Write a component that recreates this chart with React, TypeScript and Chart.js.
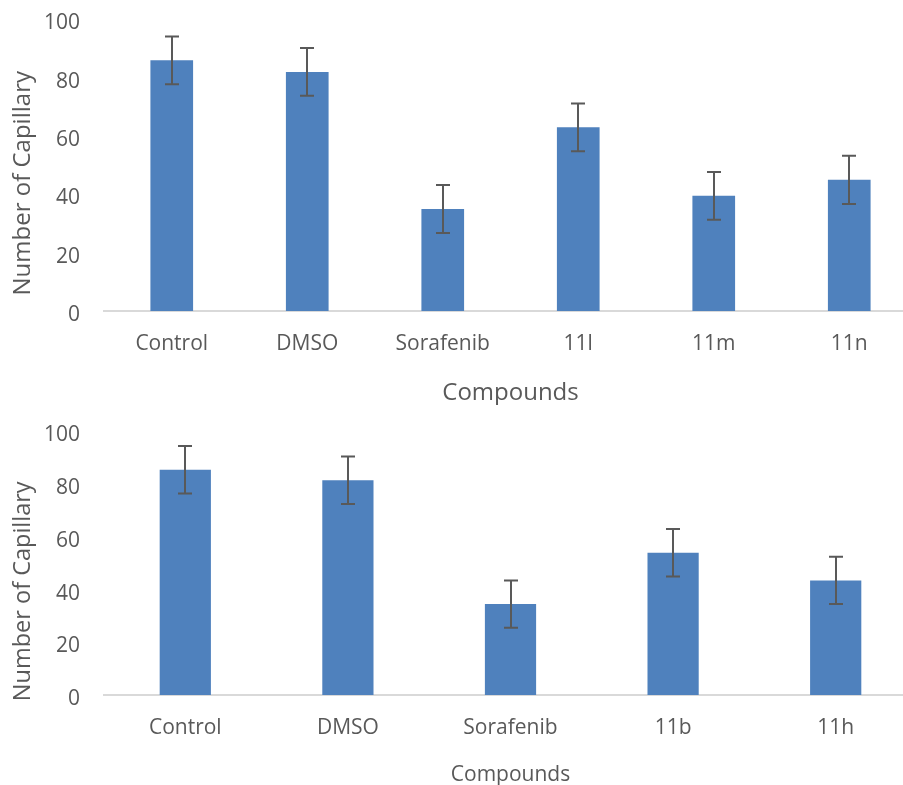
import React, { useEffect, useRef } from 'react';
import { Chart, registerables } from 'chart.js';

Chart.register(...registerables);

// ---- data ----
const topCategories = ['Control', 'DMSO', 'Sorafenib', '11l', '11m', '11n'];
const topValues = [86, 82, 35, 63, 39.5, 45];
const topErrors = [8.2, 8.2, 8.2, 8.2, 8.2, 8.3];

const bottomCategories = ['Control', 'DMSO', 'Sorafenib', '11b', '11h'];
const bottomValues = [85.5, 81.5, 34.5, 54, 43.5];
const bottomErrors = [9, 9, 9, 9, 9];

const yMin = 0;
const yMax = 100;
const yStep = 20;

const yTitleText = 'Number of Capillary';
const xTitleText = 'Compounds';

const FONT = "'Open Sans', 'Noto Sans', sans-serif";
const TEXT = '#595959';
const BAR = '#4F81BD';

function makeErrorBarPlugin(errors: number[]) {
  return {
    id: 'errorBars',
    afterDatasetsDraw(chart: any) {
      const meta = chart.getDatasetMeta(0);
      const ys = chart.scales.y;
      const data = chart.data.datasets[0].data as number[];
      const ctx = chart.ctx;
      const cap = 7;
      ctx.save();
      ctx.strokeStyle = '#595959';
      ctx.lineWidth = 2;
      meta.data.forEach((bar: any, i: number) => {
        const v = data[i];
        const e = errors[i];
        const x = Math.round(bar.x);
        const yt = ys.getPixelForValue(v + e);
        const yb = ys.getPixelForValue(v - e);
        ctx.beginPath();
        ctx.moveTo(x, yt);
        ctx.lineTo(x, yb);
        ctx.moveTo(x - cap, yt);
        ctx.lineTo(x + cap, yt);
        ctx.moveTo(x - cap, yb);
        ctx.lineTo(x + cap, yb);
        ctx.stroke();
      });
      ctx.restore();
    },
  };
}

function makeYTitlePlugin(text: string, size: number, cx: number, dy: number) {
  return {
    id: 'yTitle',
    afterDraw(chart: any) {
      const { top, bottom } = chart.chartArea;
      const ctx = chart.ctx;
      ctx.save();
      ctx.translate(cx, (top + bottom) / 2 + dy);
      ctx.rotate(-Math.PI / 2);
      ctx.fillStyle = TEXT;
      ctx.font = `${size}px ${FONT}`;
      ctx.textAlign = 'center';
      ctx.textBaseline = 'middle';
      ctx.fillText(text, 0, 0);
      ctx.restore();
    },
  };
}

// nudges the y tick labels slightly downward, as in the reference
const shifted = new WeakSet<object>();
const yLabelShiftPlugin = {
  id: 'yLabelShift',
  beforeDraw(chart: any) {
    const items = chart.scales.y.getLabelItems();
    if (shifted.has(items)) return;
    shifted.add(items);
    items.forEach((it: any) => {
      it.options.translation = [it.options.translation[0], it.options.translation[1] + 4];
    });
  },
};

interface PanelProps {
  categories: string[];
  values: number[];
  errors: number[];
  width: number;
  height: number;
  padTop: number;
  plotBottom: number;
  yTitleSize: number;
  yTitleDy: number;
  xTitleSize: number;
  xTitlePad: number;
  top: number;
}

function zeroPad(s: any) {
  s.paddingTop = 0;
  s.paddingBottom = 0;
  s.paddingLeft = 0;
  s.paddingRight = 0;
}

function Panel(p: PanelProps) {
  const ref = useRef<HTMLCanvasElement | null>(null);
  useEffect(() => {
    if (!ref.current) return;
    const chart = new Chart(ref.current, {
      type: 'bar',
      data: {
        labels: p.categories,
        datasets: [
          {
            data: p.values,
            backgroundColor: BAR,
            borderWidth: 0,
            categoryPercentage: 1,
            barPercentage: 0.315,
          },
        ],
      },
      options: {
        responsive: false,
        animation: false,
        devicePixelRatio: 1,
        layout: { padding: { top: p.padTop, left: 0, right: 1, bottom: 0 } },
        plugins: {
          legend: { display: false },
          tooltip: { enabled: false },
        },
        scales: {
          x: {
            type: 'category',
            grid: { display: false, drawTicks: false },
            border: { display: true, color: '#D9D9D9', width: 2 },
            ticks: {
              color: TEXT,
              font: { family: FONT, size: 21 },
              padding: 20,
              maxRotation: 0,
              autoSkip: false,
            },
            title: {
              display: true,
              text: xTitleText,
              color: TEXT,
              font: { family: FONT, size: p.xTitleSize },
              padding: { top: 0, bottom: p.xTitlePad },
            },
            afterFit: (s: any) => {
              s.height = p.height - p.plotBottom;
              zeroPad(s);
            },
          },
          y: {
            min: yMin,
            max: yMax,
            grid: { display: false, drawTicks: false },
            border: { display: false },
            ticks: {
              stepSize: yStep,
              color: TEXT,
              font: { family: FONT, size: 21 },
              padding: 24,
            },
            afterFit: (s: any) => {
              s.width = 104;
              zeroPad(s);
            },
          },
        },
      },
      plugins: [
        yLabelShiftPlugin,
        makeErrorBarPlugin(p.errors),
        makeYTitlePlugin(yTitleText, p.yTitleSize, 23, p.yTitleDy),
      ],
    } as any);
    return () => chart.destroy();
  }, []);
  return (
    <canvas
      ref={ref}
      width={p.width}
      height={p.height}
      style={{ position: 'absolute', left: 0, top: p.top, width: p.width, height: p.height }}
    />
  );
}

export default function App() {
  return (
    <div
      style={{
        position: 'absolute',
        left: 0,
        top: 0,
        width: 903,
        height: 785,
        overflow: 'hidden',
        background: '#ffffff',
      }}
    >
      <Panel
        categories={topCategories}
        values={topValues}
        errors={topErrors}
        width={918}
        height={405}
        padTop={19.5}
        plotBottom={311}
        yTitleSize={24}
        yTitleDy={18}
        xTitleSize={24}
        xTitlePad={-3}
        top={0}
      />
      <Panel
        categories={bottomCategories}
        values={bottomValues}
        errors={bottomErrors}
        width={918}
        height={380}
        padTop={26.5}
        plotBottom={290}
        yTitleSize={23.5}
        yTitleDy={28}
        xTitleSize={21}
        xTitlePad={-2.5}
        top={405}
      />
    </div>
  );
}
